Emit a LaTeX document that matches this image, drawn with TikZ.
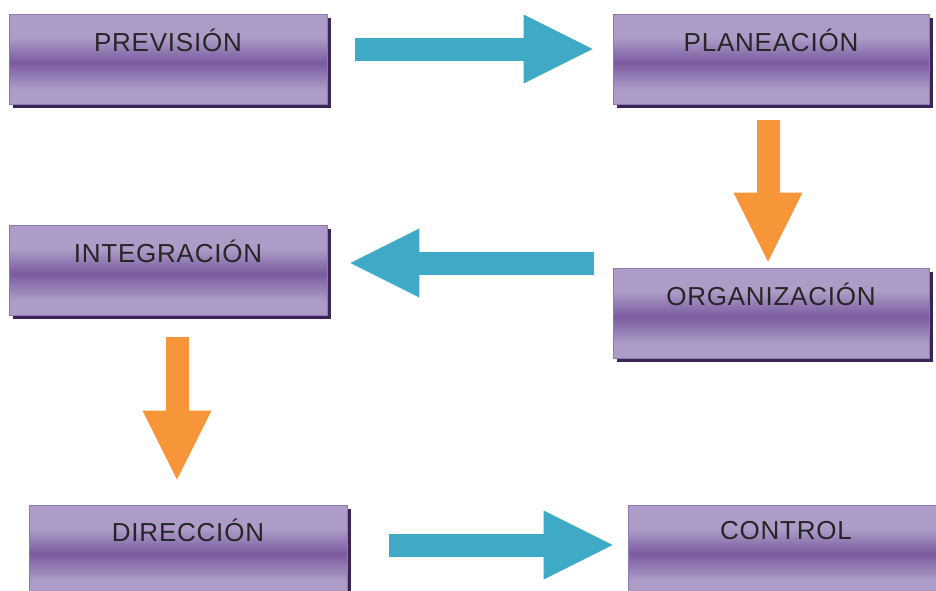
\documentclass[tikz,border=0pt]{standalone}
\usepackage{fontspec}
\setmainfont{Liberation Sans}[LetterSpace=3]
\usetikzlibrary{arrows.meta,shadows}
\definecolor{boxlite}{HTML}{AD9CC8}
\definecolor{boxdark}{HTML}{7A5B9F}
\definecolor{boxedge}{HTML}{9078B4}
\definecolor{boxshadow}{HTML}{3C2456}
\definecolor{arrblue}{HTML}{3EAAC5}
\definecolor{arrorange}{HTML}{F69639}
\pgfdeclareverticalshading{boxshade}{100bp}{color(0bp)=(boxlite); color(25bp)=(boxlite); color(33bp)=(boxlite); color(48bp)=(boxdark); color(62bp)=(boxlite); color(75bp)=(boxlite); color(100bp)=(boxlite)}
\begin{document}
\begin{tikzpicture}[x=1pt,y=-1pt,
  stagebox/.style={draw=boxedge, line width=0.8pt, shading=boxshade, minimum height=90pt, inner sep=0pt,
    drop shadow={shadow xshift=3.5pt, shadow yshift=-3.5pt, fill=boxshadow, opacity=1}},
  leftbox/.style={stagebox, minimum width=318pt},
  rightbox/.style={stagebox, minimum width=316pt},
  stagetext/.style={font=\fontsize{26}{28}\selectfont, text=black!85, inner sep=0pt},
  bluearrow/.style={draw=arrblue, line width=23pt, -{Triangle[length=69pt,width=69pt,line width=0pt]}, arrblue},
  orangearrow/.style={draw=arrorange, line width=23pt, -{Triangle[length=69pt,width=69pt,line width=0pt]}, arrorange}
]
\useasboundingbox (0,0) rectangle (936,590);
\clip (0,0) rectangle (936,590);
\fill[white] (0,0) rectangle (936,590);
% boxes
\node[leftbox]  (prev)  at (168,59)  {};
\node[rightbox] (plan)  at (771,59)  {};
\node[leftbox]  (integ) at (168,270) {};
\node[rightbox] (org)   at (771,313) {};
\node[leftbox]  (dir)   at (188,550) {};
\node[rightbox] (ctrl)  at (786,550) {};
% texts
\node[stagetext] (tprev)  at ([yshift=-27pt]prev.north)  {PREVISIÓN};
\node[stagetext] (tplan)  at ([yshift=-27pt]plan.north)  {PLANEACIÓN};
\node[stagetext] (tinteg) at ([yshift=-27pt]integ.north) {INTEGRACIÓN};
\node[stagetext] (torg)   at ([yshift=-27pt]org.north)   {ORGANIZACIÓN};
\node[stagetext] (tdir)   at ([yshift=-26pt]dir.north)   {DIRECCIÓN};
\node[stagetext] (tctrl)  at ([yshift=-26pt]ctrl.north)  {CONTROL};
% arrows
\draw[bluearrow]   ([shift={(28,-10)}]prev.east)  -- ([shift={(-20,-10)}]plan.west);
\draw[orangearrow] ([shift={(-3,16)}]plan.south)  -- ([shift={(-3,-6)}]org.north);
\draw[bluearrow]   ([shift={(-19,-50)}]org.west)  -- ([shift={(23,-7)}]integ.east);
\draw[orangearrow] ([shift={(9,22)}]integ.south)  -- ([shift={(-11,-25)}]dir.north);
\draw[bluearrow]   ([shift={(42,-5)}]dir.east)    -- ([shift={(-15,-5)}]ctrl.west);
\end{tikzpicture}
\end{document}
